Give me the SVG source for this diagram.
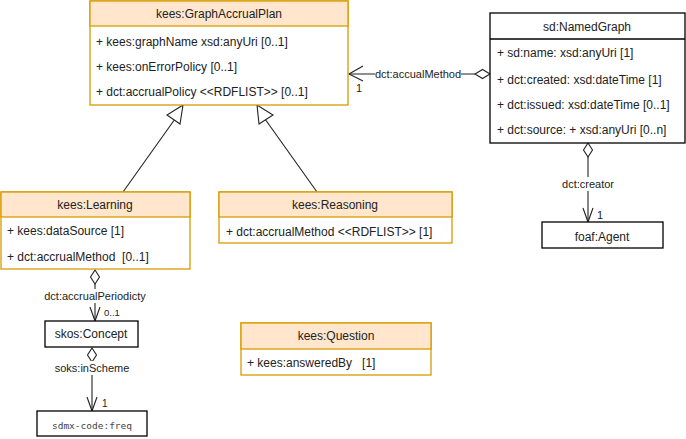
<svg xmlns="http://www.w3.org/2000/svg" width="686" height="439" viewBox="0 0 686 439">
<style>
.hdr{fill:#ffe6cc;stroke:#d79b00;stroke-width:1.3}
.body{fill:#fff;stroke:#d79b00;stroke-width:1.3}
.blk{fill:#fff;stroke:#000;stroke-width:1.3}
text{font-family:"Liberation Sans",Arial,Helvetica,sans-serif;font-size:12px;fill:#222}
.c{text-anchor:middle}
.pre{white-space:pre}
.lbl{font-size:11px;text-anchor:middle}
.mono{font-family:"DejaVu Sans Mono","Liberation Mono",monospace;font-size:9.5px;fill:#444;text-anchor:middle}
.ln{fill:none;stroke:#222;stroke-width:1.1}
.dia{fill:#fff;stroke:#222;stroke-width:1.1}
.lbg{fill:#fff}
</style>
<g id="connectors">
  <line class="ln" x1="123" y1="192" x2="175" y2="119"/>
  <polygon class="dia" points="183,105 167,115 180,124"/>
  <line class="ln" x1="317" y1="192" x2="265" y2="119"/>
  <polygon class="dia" points="257,105 259,124 273,115"/>
  <line class="ln" x1="349" y1="74" x2="475" y2="74"/>
  <polyline class="ln" points="363,66 349,74 363,81"/>
  <polygon class="dia" points="490,74 482.5,69.5 475,74 482.5,78.5"/>
  <rect class="lbg" x="375" y="67" width="86" height="14"/>
  <text class="lbl" x="418" y="78">dct:accualMethod</text>
  <text x="356" y="92" style="font-size:11px">1</text>
  <line class="ln" x1="588" y1="157" x2="588" y2="222"/>
  <polygon class="dia" points="588,143 592.5,150 588,157 583.5,150"/>
  <polyline class="ln" points="583,208 588,222 593,208"/>
  <rect class="lbg" x="560" y="177" width="56" height="14"/>
  <text class="lbl" x="588" y="188">dct:creator</text>
  <text x="597" y="219" style="font-size:11px">1</text>
  <line class="ln" x1="95" y1="284" x2="95" y2="321"/>
  <polygon class="dia" points="95,270 99.5,277 95,284 90.5,277"/>
  <polyline class="ln" points="90,307 95,321 100,307"/>
  <rect class="lbg" x="42" y="289" width="106" height="14"/>
  <text class="lbl" x="95" y="300">dct:accrualPeriodicty</text>
  <text x="104" y="316" style="font-size:9.5px">0..1</text>
  <line class="ln" x1="92" y1="362" x2="92" y2="411"/>
  <polygon class="dia" points="92,348 96.5,355 92,362 87.5,355"/>
  <polyline class="ln" points="87,397 92,411 97,397"/>
  <rect class="lbg" x="54" y="361" width="76" height="14"/>
  <text class="lbl" x="92" y="372">soks:inScheme</text>
  <text x="102" y="407" style="font-size:10px">1</text>
</g>
<g id="GraphAccrualPlan">
  <rect class="body" x="90" y="1" width="258" height="104"/>
  <rect class="hdr" x="90" y="1" width="258" height="25"/>
  <text class="c" x="219" y="18">kees:GraphAccrualPlan</text>
  <text x="96" y="46">+ kees:graphName xsd:anyUri [0..1]</text>
  <text x="96" y="71">+ kees:onErrorPolicy [0..1]</text>
  <text x="96" y="96">+ dct:accrualPolicy &lt;&lt;RDFLIST&gt;&gt; [0..1]</text>
</g>
<g id="NamedGraph">
  <rect class="blk" x="490" y="13" width="195" height="130"/>
  <line class="ln" x1="490" y1="39" x2="685" y2="39" style="stroke:#000;stroke-width:1.3"/>
  <text class="c" x="587" y="31">sd:NamedGraph</text>
  <text x="497" y="57">+ sd:name: xsd:anyUri [1]</text>
  <text x="497" y="84">+ dct:created: xsd:dateTime [1]</text>
  <text x="497" y="109">+ dct:issued: xsd:dateTime [0..1]</text>
  <text x="497" y="134">+ dct:source: + xsd:anyUri [0..n]</text>
</g>
<g id="Agent">
  <rect class="blk" x="542" y="222" width="121" height="26"/>
  <text class="c" x="602" y="241">foaf:Agent</text>
</g>
<g id="Learning">
  <rect class="body" x="1" y="192" width="189" height="77"/>
  <rect class="hdr" x="1" y="192" width="189" height="25"/>
  <text class="c" x="95" y="209">kees:Learning</text>
  <text x="7" y="235">+ kees:dataSource [1]</text>
  <text class="pre" x="7" y="261" xml:space="preserve">+ dct:accrualMethod  [0..1]</text>
</g>
<g id="Reasoning">
  <rect class="body" x="219" y="192" width="233" height="51"/>
  <rect class="hdr" x="219" y="192" width="233" height="25"/>
  <text class="c" x="335" y="209">kees:Reasoning</text>
  <text x="226" y="236">+ dct:accrualMethod &lt;&lt;RDFLIST&gt;&gt; [1]</text>
</g>
<g id="Concept">
  <rect class="blk" x="45" y="321" width="93" height="26"/>
  <text class="c" x="91" y="338">skos:Concept</text>
</g>
<g id="freq">
  <rect class="blk" x="37" y="411" width="110" height="25"/>
  <text class="mono" x="92" y="429">sdmx-code:freq</text>
</g>
<g id="Question">
  <rect class="body" x="241" y="323" width="190" height="52"/>
  <rect class="hdr" x="241" y="323" width="190" height="26"/>
  <text class="c" x="336" y="340">kees:Question</text>
  <text class="pre" x="247" y="367" xml:space="preserve">+ kees:answeredBy   [1]</text>
</g>
</svg>
